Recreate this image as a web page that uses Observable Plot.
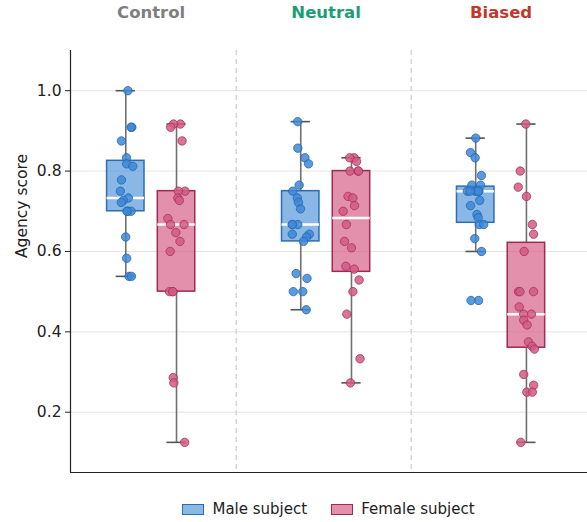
<!DOCTYPE html>
<html>
<head>
<meta charset="utf-8">
<script src="https://cdn.jsdelivr.net/npm/d3@7"></script>
<script src="https://cdn.jsdelivr.net/npm/@observablehq/plot@0.6"></script>
<style>
  body { margin: 0; background: #fff; font-family: "DejaVu Sans", sans-serif; }
  #chart { position: relative; width: 587px; height: 522px; }
  .legend { position: absolute; left: 70px; width: 517px; top: 490px; height: 38px;
    display: flex; justify-content: center; align-items: center; font-size: 15px; color: #222; }
  .item { display: flex; align-items: center; margin: 0 12px; }
  .sw { width: 20px; height: 9px; margin-right: 8px; border-width: 1.5px; border-style: solid; }
</style>
</head>
<body>
<div id="chart"></div>
<script>
const conditions = ["Control", "Neutral", "Biased"];
const subjects = ["Male subject", "Female subject"];
const yLabel = "Agency score";
const yTicks = [0.2, 0.4, 0.6, 0.8, 1.0];

const controlMale = [1.0, 0.909, 0.909, 0.875, 0.833, 0.818, 0.812, 0.778, 0.75, 0.733, 0.727, 0.722, 0.7, 0.7, 0.7, 0.636, 0.583, 0.538, 0.538];
const controlFemale = [0.917, 0.917, 0.909, 0.875, 0.75, 0.75, 0.733, 0.727, 0.682, 0.667, 0.667, 0.647, 0.625, 0.6, 0.5, 0.5, 0.5, 0.286, 0.273, 0.125];
const neutralMale = [0.923, 0.857, 0.833, 0.818, 0.765, 0.75, 0.733, 0.722, 0.706, 0.667, 0.667, 0.667, 0.643, 0.643, 0.636, 0.625, 0.545, 0.533, 0.5, 0.5, 0.455];
const neutralFemale = [0.833, 0.833, 0.824, 0.8, 0.8, 0.8, 0.737, 0.733, 0.714, 0.7, 0.667, 0.625, 0.609, 0.563, 0.556, 0.529, 0.5, 0.444, 0.333, 0.273];
const biasedMale = [0.882, 0.846, 0.833, 0.789, 0.765, 0.765, 0.75, 0.75, 0.75, 0.75, 0.75, 0.75, 0.727, 0.714, 0.692, 0.684, 0.667, 0.667, 0.632, 0.6, 0.478, 0.478];
const biasedFemale = [0.917, 0.8, 0.76, 0.737, 0.667, 0.643, 0.6, 0.5, 0.5, 0.5, 0.462, 0.444, 0.444, 0.429, 0.417, 0.375, 0.364, 0.357, 0.294, 0.267, 0.25, 0.25, 0.125];

const titleColors = {Control: "#7f7f7f", Neutral: "#1b9e77", Biased: "#c0392b"};
const palette = {
  "Male subject": {box: "#4a90d9", edge: "#2c6db3", dot: "#3d88d8", dotEdge: "#2a66a8"},
  "Female subject": {box: "#d4547f", edge: "#9e2a55", dot: "#d45a84", dotEdge: "#a2325c"}
};

const series = [
  {condition: "Control", subject: "Male subject", values: controlMale},
  {condition: "Control", subject: "Female subject", values: controlFemale},
  {condition: "Neutral", subject: "Male subject", values: neutralMale},
  {condition: "Neutral", subject: "Female subject", values: neutralFemale},
  {condition: "Biased", subject: "Male subject", values: biasedMale},
  {condition: "Biased", subject: "Female subject", values: biasedFemale}
];

const offset = 0.145, boxHalf = 0.107, capHalf = 0.055, sepOffset = 0.486, jitterHalf = 0.05;
const xDomain = [-0.461, 2.494];
const yDomain = [0.05, 1.1];

const stats = series.map(s => {
  const v = s.values.slice().sort(d3.ascending);
  const q1 = d3.quantile(v, 0.25), q3 = d3.quantile(v, 0.75), med = d3.quantile(v, 0.5);
  const iqr = q3 - q1;
  const lo = d3.min(v.filter(d => d >= q1 - 1.5 * iqr - 1e-9));
  const hi = d3.max(v.filter(d => d <= q3 + 1.5 * iqr + 1e-9));
  const pos = conditions.indexOf(s.condition) + (s.subject === subjects[0] ? -offset : offset);
  return {...s, pos, q1, q3, median: med, lo, hi};
});

const rand = d3.randomUniform.source(d3.randomLcg(0.1234))(-jitterHalf, jitterHalf);
const points = stats.flatMap(s => s.values.map(value => ({subject: s.subject, value, x: s.pos + rand()})));
const separators = conditions.slice(0, -1).map((_, i) => i + sepOffset);

const chart = Plot.plot({
  width: 587, height: 490,
  marginLeft: 70, marginRight: 0, marginTop: 50, marginBottom: 18,
  x: {domain: xDomain, axis: null},
  y: {domain: yDomain, axis: null},
  style: {fontFamily: "DejaVu Sans", fontSize: "15px", background: "white", color: "#222"},
  marks: [
    Plot.ruleY(yTicks, {stroke: "#e4e4e4", strokeWidth: 1}),
    Plot.ruleX(separators, {stroke: "#cdcdcd", strokeDasharray: "5,4", strokeWidth: 1.2}),
    Plot.axisY({ticks: yTicks, tickFormat: d3.format(".1f"), tickSize: 5, tickPadding: 4, fontSize: 15.5, label: null, color: "#222"}),
    Plot.ruleX([xDomain[0]], {stroke: "#222", strokeWidth: 1.2}),
    Plot.ruleY([yDomain[0]], {stroke: "#222", strokeWidth: 1.2}),
    Plot.text([yLabel], {frameAnchor: "left", text: d => d, rotate: -90, dx: -48, dy: -3.5, fontSize: 15.5, fill: "#222"}),
    Plot.text(conditions, {x: (d, i) => i, text: d => d, frameAnchor: "top", dy: -44, fill: d => titleColors[d], fontWeight: "bold", fontSize: 16.5}),
    Plot.ruleX(stats, {x: "pos", y1: "lo", y2: "q1", stroke: "#707070", strokeWidth: 1.6}),
    Plot.ruleX(stats, {x: "pos", y1: "q3", y2: "hi", stroke: "#707070", strokeWidth: 1.6}),
    Plot.ruleY(stats, {y: "lo", x1: d => d.pos - capHalf, x2: d => d.pos + capHalf, stroke: "#555", strokeWidth: 1.6}),
    Plot.ruleY(stats, {y: "hi", x1: d => d.pos - capHalf, x2: d => d.pos + capHalf, stroke: "#555", strokeWidth: 1.6}),
    Plot.rect(stats, {x1: d => d.pos - boxHalf, x2: d => d.pos + boxHalf, y1: "q1", y2: "q3",
      fill: d => palette[d.subject].box, fillOpacity: 0.65, stroke: d => palette[d.subject].edge, strokeWidth: 1.5}),
    Plot.ruleY(stats, {y: "median", x1: d => d.pos - boxHalf, x2: d => d.pos + boxHalf, stroke: "white", strokeWidth: 2.5}),
    Plot.dot(points, {x: "x", y: "value", r: 4.2, fill: d => palette[d.subject].dot, fillOpacity: 0.85,
      stroke: d => palette[d.subject].dotEdge, strokeWidth: 0.8})
  ]
});

const root = document.getElementById("chart");
root.appendChild(chart);
const legend = document.createElement("div");
legend.className = "legend";
subjects.forEach(s => {
  const item = document.createElement("div");
  item.className = "item";
  const sw = document.createElement("span");
  sw.className = "sw";
  const c = d3.color(palette[s].box); c.opacity = 0.65;
  sw.style.background = c.formatRgb();
  sw.style.borderColor = palette[s].edge;
  item.appendChild(sw);
  const t = document.createElement("span");
  t.textContent = s;
  item.appendChild(t);
  legend.appendChild(item);
});
root.appendChild(legend);
</script>
</body>
</html>
